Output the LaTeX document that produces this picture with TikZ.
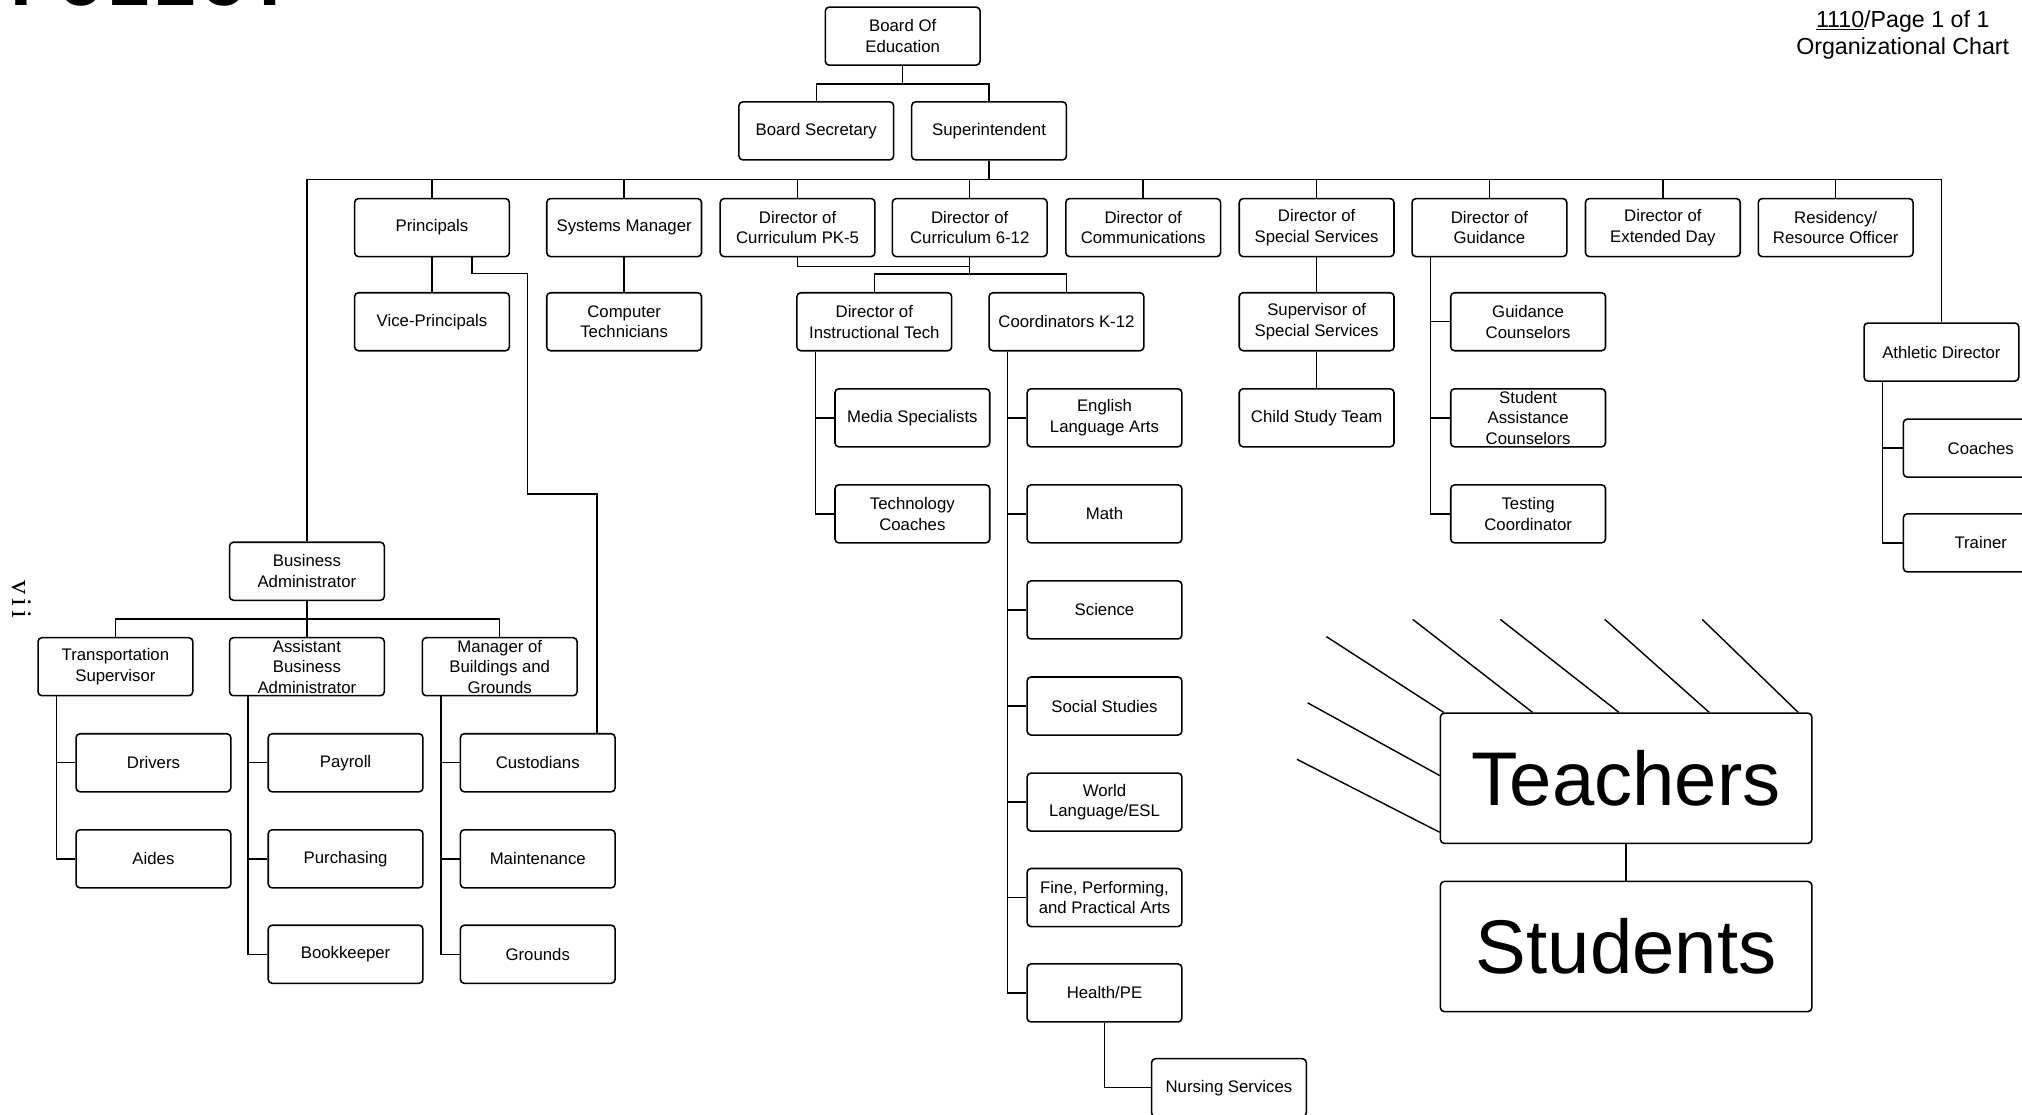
\documentclass[tikz,border=0pt]{standalone}
\usepackage{fontspec}
\setmainfont{Liberation Sans}
\newfontfamily\policyfont{Liberation Mono}
\newfontfamily\pagefont{Liberation Serif}

\tikzset{
  orgbox/.style={draw, line width=1.2pt, rounded corners=3pt, minimum width=120pt,
    minimum height=45pt, inner sep=0pt, align=center, font=\fontsize{13}{16}\selectfont},
  bigbox/.style={orgbox, minimum width=288pt, minimum height=101pt,
    font=\fontsize{59}{70}\selectfont},
  link/.style={line width=1.1pt},
  pagetext/.style={inner sep=0pt, font=\fontsize{18}{20}\selectfont}
}

\begin{document}
\begin{tikzpicture}[x=1pt, y=-1pt]
  \useasboundingbox (0,0) rectangle (1568,864);
  \clip (0,0) rectangle (1568,864);

  % Page furniture
  \node[anchor=base west, inner sep=0pt, font=\policyfont\bfseries\fontsize{61}{61}\selectfont] (policy) at (8,4.5) {POLICY};
  \node[anchor=base west, rotate=-90, inner sep=0pt, font=\pagefont\fontsize{22}{22}\selectfont] (pageno) at (9.7,450) {v\kern3pt i\kern3pt i};
  \node[pagetext, anchor=base] (title) at (1475.5,21.5) {\underline{1110}/Page 1 of 1};
  \node[pagetext, anchor=base] (subtitle) at (1475.5,42) {Organizational Chart};

  % Board
  \node[orgbox] (boe) at (700,28) {Board Of\\Education};
  \node[orgbox] (sec) at (633,101.5) {Board Secretary};
  \node[orgbox] (sup) at (767,101.5) {Superintendent};

  % Directors
  \node[orgbox] (prin) at (335,176.5) {Principals};
  \node[orgbox] (sysm) at (484,176.5) {Systems Manager};
  \node[orgbox] (pk)   at (618.5,176.5) {Director of\\Curriculum PK-5};
  \node[orgbox] (six)  at (752,176.5) {Director of\\Curriculum 6-12};
  \node[orgbox] (comm) at (886.5,176.5) {Director of\\Communications};
  \node[orgbox] (spec) at (1021,176.5) {Director of\\Special Services};
  \node[orgbox] (guid) at (1155,176.5) {Director of\\Guidance};
  \node[orgbox] (ext)  at (1289.5,176.5) {Director of\\Extended Day};
  \node[orgbox] (res)  at (1423.5,176.5) {Residency/\\Resource Officer};

  % Second level
  \node[orgbox] (vp)   at (335,249.5) {Vice-Principals};
  \node[orgbox] (ctec) at (484,249.5) {Computer\\Technicians};
  \node[orgbox] (itec) at (678,249.5) {Director of\\Instructional Tech};
  \node[orgbox] (crd)  at (827,249.5) {Coordinators K-12};
  \node[orgbox] (sss)  at (1021,249.5) {Supervisor of\\Special Services};
  \node[orgbox] (cst)  at (1021,324) {Child Study Team};
  \node[orgbox] (ath)  at (1505.5,273) {Athletic Director};

  % Instructional tech
  \node[orgbox] (media)  at (707.5,324) {Media Specialists};
  \node[orgbox] (tcoach) at (707.5,398.5) {Technology\\Coaches};

  % Coordinators
  \node[orgbox] (ela)  at (856.5,324) {English\\Language Arts};
  \node[orgbox] (math) at (856.5,398.5) {Math};
  \node[orgbox] (sci)  at (856.5,473) {Science};
  \node[orgbox] (soc)  at (856.5,547.5) {Social Studies};
  \node[orgbox] (wl)   at (856.5,622) {World\\Language/ESL};
  \node[orgbox] (fpa)  at (856.5,696) {Fine, Performing,\\and Practical Arts};
  \node[orgbox] (hpe)  at (856.5,770) {Health/PE};
  \node[orgbox] (nur)  at (953,843.5) {Nursing Services};

  % Guidance
  \node[orgbox] (gc)  at (1185,249.5) {Guidance\\Counselors};
  \node[orgbox] (sac) at (1185,324) {Student\\Assistance\\Counselors};
  \node[orgbox] (tcd) at (1185,398.5) {Testing\\Coordinator};

  % Athletics
  \node[orgbox] (coach)   at (1536,347.5) {Coaches};
  \node[orgbox] (trainer) at (1536,421) {Trainer};

  % Business office
  \node[orgbox] (ba)   at (238,443) {Business\\Administrator};
  \node[orgbox] (tran) at (89.5,517) {Transportation\\Supervisor};
  \node[orgbox] (aba)  at (238,517) {Assistant\\Business\\Administrator};
  \node[orgbox] (mgr)  at (387.5,517) {Manager of\\Buildings and\\Grounds};
  \node[orgbox] (drv)  at (119,591.5) {Drivers};
  \node[orgbox] (aide) at (119,666) {Aides};
  \node[orgbox] (pay)  at (268,591.5) {Payroll};
  \node[orgbox] (pur)  at (268,666) {Purchasing};
  \node[orgbox] (book) at (268,740) {Bookkeeper};
  \node[orgbox] (cus)  at (417,591.5) {Custodians};
  \node[orgbox] (mnt)  at (417,666) {Maintenance};
  \node[orgbox] (grd)  at (417,740) {Grounds};

  % Teachers and students
  \node[bigbox] (tea) at (1261,603.5) {Teachers};
  \node[bigbox] (stu) at (1261,734) {Students};

  % Board links
  \draw[link] (boe.south) -- ++(0,14) coordinate (bj) -| (sec.north);
  \draw[link] (bj) -| (sup.north);

  % Main bus
  \coordinate (busL) at (238,139);
  \coordinate (busR) at (ath.north |- busL);
  \draw[link] (sup.south) -- (sup.south |- busL);
  \draw[link] (ba.north) -- (busL) -- (busR) -- (ath.north);
  \foreach \n in {prin,sysm,pk,six,comm,spec,guid,ext,res}
    \draw[link] (\n.north) -- (\n.north |- busL);

  % Straight drops
  \draw[link] (prin.south) -- (vp.north);
  \draw[link] (sysm.south) -- (ctec.north);
  \draw[link] (spec.south) -- (sss.north);
  \draw[link] (sss.south) -- (cst.north);
  \draw[link] (tea.south) -- (stu.north);

  % Curriculum join
  \draw[link] (pk.south) -- ++(0,7) -| (six.south);
  \draw[link] (six.south) -- ++(0,13) coordinate (cj);
  \draw[link] (itec.north) |- (cj) -| (crd.north);

  % Side branches
  \foreach \p/\kids in {itec/{media,tcoach}, crd/{ela,math,sci,soc,wl,fpa,hpe},
      guid/{gc,sac,tcd}, ath/{coach,trainer}, tran/{drv,aide},
      aba/{pay,pur,book}, mgr/{cus,mnt,grd}}
    \foreach \k in \kids
      \draw[link] ([xshift=15pt]\p.south west) |- (\k.west);
  \draw[link] (hpe.south) |- (nur.west);

  % Principals to custodians
  \coordinate (pc1) at (409,212);
  \coordinate (pc2) at (463,383);
  \draw[link] ([xshift=31pt]prin.south) |- (pc1) |- (pc2) -- ([xshift=46pt]cus.north);

  % Business office links
  \draw[link] (ba.south) -- ++(0,14) coordinate (baj);
  \draw[link] (tran.north) |- (baj) -| (mgr.north);
  \draw[link] (baj) -- (aba.north);

  % Rays into teachers
  \foreach \i/\sx/\sy in {1/1028.6/493.7, 2/1095.5/480.3, 3/1163.4/480.3, 4/1244.4/480.3,
      5/1320/480.3, 6/1014/545, 7/1005.7/588.8}
    \coordinate (ray\i) at (\sx,\sy);
  \foreach \i/\dx/\dy in {1/3/0, 2/72/0, 3/139/0, 4/209/0, 5/278/0, 6/0/-49, 7/0/-93}
    \draw[link] (ray\i) -- ([xshift=\dx pt, yshift=\dy pt]tea.north west);
\end{tikzpicture}
\end{document}
